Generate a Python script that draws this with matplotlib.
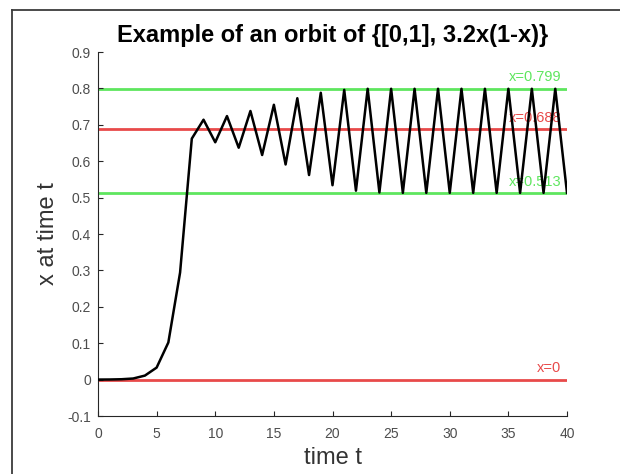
import matplotlib
matplotlib.use("Agg")
import matplotlib.pyplot as plt
from matplotlib.lines import Line2D

plt.rcParams['font.family'] = ['Liberation Sans', 'DejaVu Sans']

t = list(range(41))
x = [0.0001, 0.0003, 0.001, 0.003, 0.011, 0.033, 0.102, 0.294, 0.662, 0.714,
     0.652, 0.724, 0.637, 0.738, 0.617, 0.755, 0.591, 0.773, 0.562, 0.788,
     0.534, 0.796, 0.519, 0.799, 0.514, 0.799, 0.513, 0.799, 0.513, 0.799,
     0.513, 0.799, 0.513, 0.799, 0.513, 0.799, 0.513, 0.799, 0.513, 0.799,
     0.513]

level_values = [0.799, 0.688, 0.513, 0.0]
level_labels = ["x=0.799", "x=0.688", "x=0.513", "x=0"]
level_colors = ["#5ee65e", "#e84a4a", "#5ee65e", "#e84a4a"]

xticks = [0, 5, 10, 15, 20, 25, 30, 35, 40]
yticks = [-0.1, 0, 0.1, 0.2, 0.3, 0.4, 0.5, 0.6, 0.7, 0.8, 0.9]
ytick_labels = ["-0.1", "0", "0.1", "0.2", "0.3", "0.4", "0.5", "0.6", "0.7", "0.8", "0.9"]

fig = plt.figure(figsize=(6.2, 4.74), dpi=100)
fig.patch.set_facecolor('white')
# outer window frame (top and left edges visible)
top_y = 1 - 9.5 / 474
left_x = 11.5 / 620
fig.add_artist(Line2D([left_x, 1.01], [top_y, top_y], transform=fig.transFigure,
                      color='#3c3c3c', linewidth=1.3))
fig.add_artist(Line2D([left_x, left_x], [-0.01, top_y], transform=fig.transFigure,
                      color='#3c3c3c', linewidth=1.3))

ax = fig.add_axes([98/620, 1 - 416/474, (567 - 98)/620, (416 - 52)/474])

for v, lab, c in zip(level_values, level_labels, level_colors):
    ax.axhline(v, color=c, linewidth=2, zorder=1)
    ax.text(39.5, v + 0.012, lab, color=c, fontsize=10.5, ha='right',
            va='bottom', zorder=2)

ax.plot(t, x, color='black', linewidth=1.8, zorder=3)

ax.set_xlim(0, 40)
ax.set_ylim(-0.1, 0.9)
ax.set_xticks(xticks)
ax.set_yticks(yticks)
ax.set_yticklabels(ytick_labels)

for s in ['top', 'right']:
    ax.spines[s].set_visible(False)
for s in ['left', 'bottom']:
    ax.spines[s].set_color('#262626')
    ax.spines[s].set_linewidth(0.8)

ax.tick_params(direction='in', length=3.5, width=0.8, colors='#262626',
               labelcolor='#4d4d4d', labelsize=10)
ax.tick_params(axis='x', pad=8)
ax.tick_params(axis='y', pad=5)

ax.set_title("Example of an orbit of {[0,1], 3.2x(1-x)}", fontsize=17,
             fontweight='bold', pad=7)
ax.set_xlabel("time t", fontsize=17, color='#333333', labelpad=4)
ax.set_ylabel("x at time t", fontsize=17, color='#333333', labelpad=6)

fig.savefig("out.png", dpi=100)
